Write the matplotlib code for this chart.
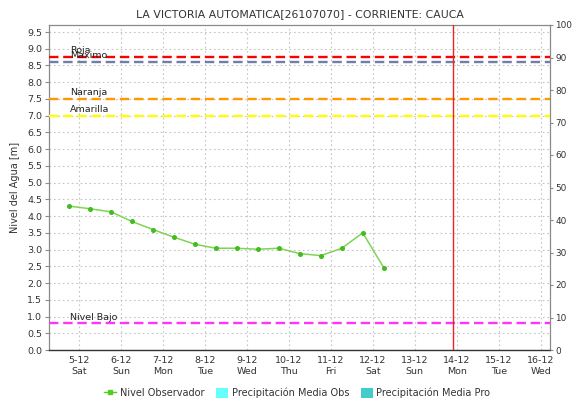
import matplotlib
matplotlib.use("Agg")
import matplotlib.pyplot as plt
import matplotlib.dates as mdates
from matplotlib.lines import Line2D
from matplotlib.patches import Patch
import pandas as pd

# Observed water level (m), readings every 12 h
obs_times = pd.date_range("2020-12-04 18:15", periods=16, freq="12h")
obs_level = [4.30, 4.22, 4.13, 3.84, 3.60, 3.37, 3.16, 3.04,
             3.04, 3.01, 3.04, 2.88, 2.82, 3.04, 3.50, 2.46]

# Alert thresholds (m)
threshold_names = ["Roja", "Maximo", "Naranja", "Amarilla", "Nivel Bajo"]
threshold_values = [8.75, 8.60, 7.50, 7.00, 0.80]
threshold_colors = ["#ff0000", "#6f7fa8", "#ff9900", "#ffff00", "#ff33ff"]

# Day ticks
tick_days = pd.date_range("2020-12-05", "2020-12-16", freq="D")
tick_labels = ["5-12\nSat", "6-12\nSun", "7-12\nMon", "8-12\nTue", "9-12\nWed",
               "10-12\nThu", "11-12\nFri", "12-12\nSat", "13-12\nSun",
               "14-12\nMon", "15-12\nTue", "16-12\nWed"]
now_time = pd.Timestamp("2020-12-13 21:40")

x_start = pd.Timestamp("2020-12-04 06:50")
x_end = pd.Timestamp("2020-12-16 05:20")

fig = plt.figure(figsize=(5.72, 4.03), dpi=100)
W, H = 572, 403
left, right, top, bottom = 49, 550, 25, 350
ax = fig.add_axes([left / W, (H - bottom) / H, (right - left) / W, (bottom - top) / H])

ax.set_xlim(mdates.date2num(x_start), mdates.date2num(x_end))
ax.set_ylim(0, 9.71)

# Grid
ax.set_yticks([i * 0.5 for i in range(20)])
ax.set_xticks(mdates.date2num(tick_days))
ax.set_xticklabels(tick_labels, linespacing=1.35)
ax.grid(True, color="#c4c4c4", linestyle=(0, (1.5, 2.5)), linewidth=0.8)
ax.set_axisbelow(True)

# Threshold lines and labels
label_x = mdates.date2num(pd.Timestamp("2020-12-04 18:50"))
for name, val, col in zip(threshold_names, threshold_values, threshold_colors):
    ax.axhline(val, color=col, linestyle=(0, (4, 2)), linewidth=1.7, zorder=3)
    ax.text(label_x, val + 0.05, name, fontsize=6.8, color="#222222",
            va="bottom", ha="left", zorder=4)

# Current time marker
ax.axvline(mdates.date2num(now_time), color="#ee2222", linewidth=1.0, zorder=4)

# Observed level series
ax.plot(mdates.date2num(obs_times), obs_level, color="#7fd454", linewidth=1.1,
        marker="o", markersize=2.6, markerfacecolor="#44bb22",
        markeredgecolor="#44bb22", zorder=5)

# Axes styling
for s in ["left", "right", "top"]:
    ax.spines[s].set_color("#8a8a8a")
    ax.spines[s].set_linewidth(0.9)
ax.spines["bottom"].set_color("#333333")
ax.spines["bottom"].set_linestyle((0, (1, 1)))
ax.spines["bottom"].set_linewidth(1.0)

ax.tick_params(axis="y", labelsize=6.8, colors="#8a8a8a", labelcolor="#333333",
               length=3, pad=2)
ax.tick_params(axis="x", labelsize=6.8, labelcolor="#333333", length=0, pad=4)
ax.set_yticklabels([f"{i * 0.5:.1f}" for i in range(20)])
ax.set_ylabel("Nivel del Agua [m]", fontsize=7, color="#333333", labelpad=5)

# Secondary axis for precipitation
ax2 = ax.twinx()
ax2.set_ylim(0, 100)
ax2.set_yticks(range(0, 101, 10))
ax2.tick_params(axis="y", labelsize=6.4, colors="#8a8a8a", labelcolor="#333333",
                length=2.5, pad=1.5)
for s in ["left", "right", "top", "bottom"]:
    ax2.spines[s].set_visible(False)

ax.set_title("LA VICTORIA AUTOMATICA[26107070] - CORRIENTE: CAUCA",
             fontsize=7.8, color="#333333", pad=6)

handles = [
    Line2D([0], [0], color="#55cc22", linewidth=1.0, marker="s", markersize=2.2),
    Patch(facecolor="#66ffff", edgecolor="none"),
    Patch(facecolor="#44cccc", edgecolor="none"),
]
fig.legend(handles, ["Nivel Observador", "Precipitación Media Obs",
                     "Precipitación Media Pro"],
           loc="center", bbox_to_anchor=(0.52, (H - 393) / H), ncol=3,
           frameon=False, fontsize=7, handlelength=1.2, handleheight=1.3,
           handletextpad=0.4, columnspacing=1.2, labelcolor="#333333")

fig.savefig("out.png", dpi=100, facecolor="white")
